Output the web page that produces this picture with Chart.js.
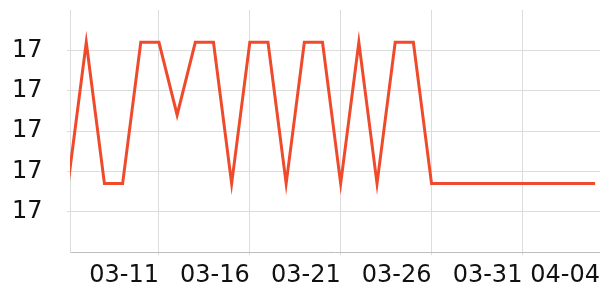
<!DOCTYPE html>
<html>
<head>
<meta charset="utf-8">
<script src="https://cdn.jsdelivr.net/npm/chart.js@4/dist/chart.umd.min.js"></script>
<style>
  html, body { margin: 0; padding: 0; background: #fff; }
  #wrap { width: 600px; height: 300px; }
</style>
</head>
<body>
<div id="wrap"><canvas id="rateChart"></canvas></div>
<script>
// Day labels 03-06 .. 04-04
const days = ['03-06', '03-07', '03-08', '03-09', '03-10', '03-11', '03-12', '03-13', '03-14', '03-15',
    '03-16', '03-17', '03-18', '03-19', '03-20', '03-21', '03-22', '03-23', '03-24', '03-25',
    '03-26', '03-27', '03-28', '03-29', '03-30', '03-31', '04-01', '04-02', '04-03', '04-04'];

// Daily values (all round to 17)
const rates = [17.085, 17.26, 17.085, 17.085, 17.26, 17.26, 17.17, 17.26, 17.26, 17.085,
    17.26, 17.26, 17.085, 17.26, 17.26, 17.085, 17.26, 17.085, 17.26, 17.26,
    17.085, 17.085, 17.085, 17.085, 17.085, 17.085, 17.085, 17.085, 17.085, 17.085];

// Which days get a tick label
const labelDays = ['03-11', '03-16', '03-21', '03-26', '03-31'];
const lastDay = days[days.length - 1];

// Y gridline values
const yTicks = [17.05, 17.10, 17.15, 17.20, 17.25];

const points = rates.map((v, i) => ({ x: i, y: v }));
const font = { family: 'DejaVu Sans', size: 24 };

// drop the label overflow padding chart.js adds around the axes
const noEdgePadding = (scale) => {
    scale.paddingTop = 0;
    scale.paddingBottom = 0;
    scale.paddingLeft = 0;
    scale.paddingRight = 0;
};

const renderRateChart = () => {
    const ctx = document.getElementById('rateChart').getContext('2d');

    new Chart(ctx, {
        type: 'line',
        data: {
            datasets: [
                {
                    data: points,
                    borderColor: '#ef4a2b',
                    borderWidth: 3,
                    pointRadius: 0,
                    tension: 0,
                    fill: false,
                },
            ],
        },
        options: {
            responsive: true,
            maintainAspectRatio: false,
            animation: false,
            layout: { padding: { top: 10, left: 12, right: 0, bottom: 4 } },
            plugins: {
                legend: { display: false },
                tooltip: { enabled: false },
            },
            scales: {
                x: {
                    type: 'linear',
                    min: 0.105,
                    max: 29.27,
                    afterBuildTicks: (scale) => {
                        const ticks = labelDays.map((d) => ({ value: days.indexOf(d) }));
                        ticks.push({ value: scale.max });
                        scale.ticks = ticks;
                    },
                    afterFit: noEdgePadding,
                    ticks: {
                        autoSkip: false,
                        maxRotation: 0,
                        align: 'end',
                        padding: 6,
                        color: '#111',
                        font: font,
                        callback: (value) => days[Math.round(value)] || lastDay,
                    },
                    grid: {
                        color: (c) => (c.tick && c.tick.value === c.scale.max ? 'rgba(0,0,0,0)' : '#dcdcdc'),
                        tickLength: 3,
                    },
                    border: { color: '#bdbdbd', width: 1 },
                },
                y: {
                    min: 17.0,
                    max: 17.3,
                    afterBuildTicks: (scale) => {
                        scale.ticks = yTicks.map((v) => ({ value: v }));
                    },
                    afterFit: (scale) => {
                        noEdgePadding(scale);
                        scale.width = 58;
                    },
                    ticks: {
                        padding: 0,
                        crossAlign: 'far',
                        color: '#111',
                        font: font,
                        callback: (value) => value.toFixed(0),
                    },
                    grid: {
                        color: '#dcdcdc',
                        tickLength: 3,
                    },
                    border: { color: '#dcdcdc', width: 1 },
                },
            },
        },
    });
};

renderRateChart();
</script>
</body>
</html>
